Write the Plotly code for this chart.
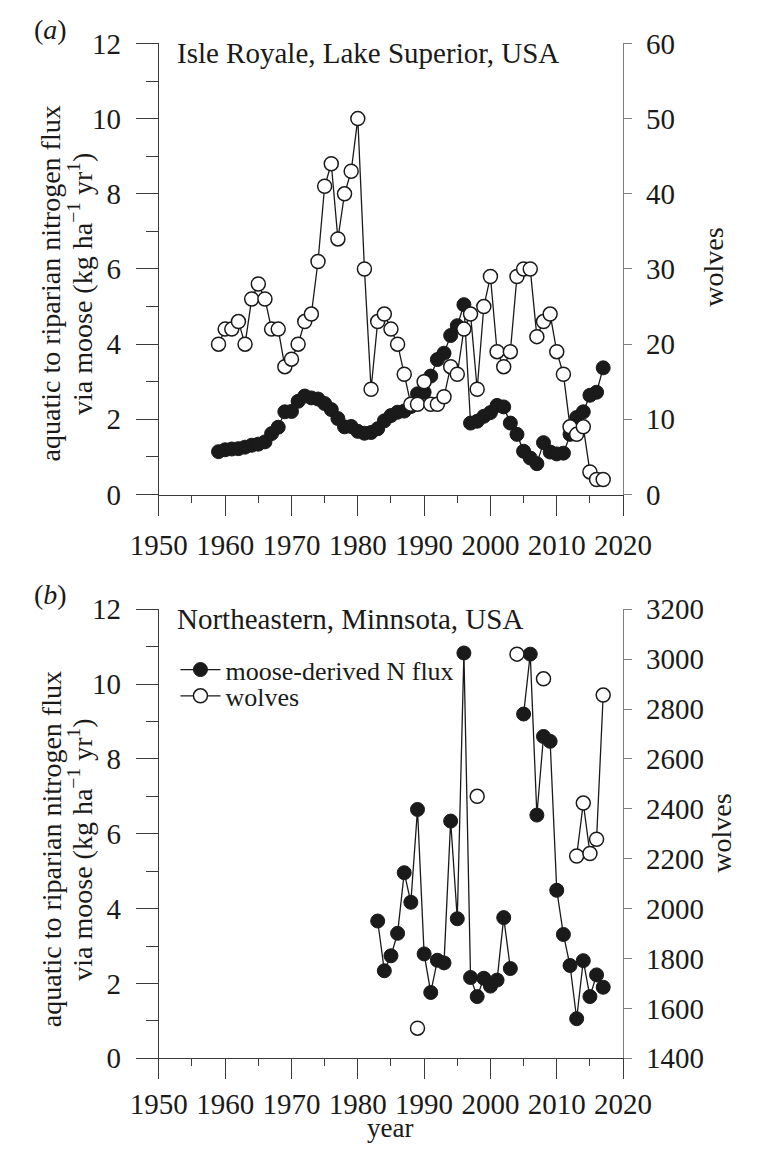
import plotly.graph_objects as go

# ---------------- data ----------------
# Panel (a): Isle Royale, Lake Superior
ir_years = list(range(1959, 2018))
ir_flux = [1.14, 1.19, 1.21, 1.22, 1.26, 1.31, 1.34, 1.40, 1.62, 1.79,
           2.20, 2.21, 2.48, 2.62, 2.57, 2.54, 2.42, 2.26, 2.02, 1.80,
           1.81, 1.68, 1.63, 1.65, 1.75, 1.96, 2.10, 2.19, 2.22, 2.34,
           2.68, 2.72, 3.15, 3.59, 3.76, 4.23, 4.49, 5.05, 1.90, 1.95,
           2.08, 2.18, 2.37, 2.33, 1.90, 1.60, 1.15, 0.97, 0.82, 1.38,
           1.13, 1.08, 1.10, 1.60, 2.05, 2.20, 2.64, 2.72, 3.37]
ir_wolves = [20, 22, 22, 23, 20, 26, 28, 26, 22, 22,
             17, 18, 20, 23, 24, 31, 41, 44, 34, 40,
             43, 50, 30, 14, 23, 24, 22, 20, 16, 12,
             12, 15, 12, 12, 13, 17, 16, 22, 24, 14,
             25, 29, 19, 17, 19, 29, 30, 30, 21, 23,
             24, 19, 16, 9, 8, 9, 3, 2, 2]

# Panel (b): Northeastern Minnesota
mn_years = list(range(1983, 2018))
mn_flux = [3.67, 2.34, 2.74, 3.34, 4.96, 4.17, 6.65, 2.79, 1.76, 2.62,
           2.55, 6.34, 3.73, 10.83, 2.16, 1.65, 2.14, 1.93, 2.09, 3.76,
           2.40, None, 9.20, 10.80, 6.50, 8.60, 8.47, 4.49, 3.31, 2.48,
           1.06, 2.61, 1.65, 2.23, 1.90]
mn_wolves = [None, None, None, None, None, None, 1521, None, None, None,
             None, None, None, None, None, 2450, None, None, None, None,
             None, 3020, None, None, None, 2921, None, None, None, None,
             2211, 2423, 2221, 2278, 2856]

x_ticks = [1950, 1960, 1970, 1980, 1990, 2000, 2010, 2020]

# ---------------- layout helpers ----------------
# The page body has an 8px margin, so the figure is 753x1148 and page pixels
# are converted to figure fractions below.
OFF = 8
W, H = 761 - OFF, 1156 - OFF
FONT = "Liberation Serif, Times New Roman, serif"
INK = "#1a1a1a"
AX = "#3a3a3a"
AX2 = "#808080"

def px_x(p):
    return (p - OFF) / W

def px_y(p):
    return 1 - (p - OFF) / H

x_dom = [px_x(140), px_x(643)]
ya_dom = [px_y(492), px_y(28)]
yb_dom = [px_y(1072), px_y(610)]

line_style = dict(color=INK, width=1.3)
filled = dict(symbol="circle", size=14, color=INK, line=dict(color=INK, width=1))
hollow = dict(symbol="circle", size=14, color="white", line=dict(color=INK, width=1.5))

fig = go.Figure()
fig.add_trace(go.Scatter(x=ir_years, y=ir_flux, mode="lines+markers", line=line_style,
                         marker=filled, xaxis="x", yaxis="y", showlegend=False))
fig.add_trace(go.Scatter(x=ir_years, y=ir_wolves, mode="lines+markers", line=line_style,
                         marker=hollow, xaxis="x", yaxis="y2", showlegend=False))
fig.add_trace(go.Scatter(x=mn_years, y=mn_flux, mode="lines+markers", line=line_style,
                         marker=filled, xaxis="x2", yaxis="y3", connectgaps=False,
                         name="moose-derived N flux", legend="legend"))
fig.add_trace(go.Scatter(x=mn_years, y=mn_wolves, mode="lines+markers", line=line_style,
                         marker=hollow, xaxis="x2", yaxis="y4", connectgaps=False,
                         name="wolves", legend="legend2"))

tickfont = dict(family=FONT, size=29, color=INK)

def xaxis(anchor, standoff):
    return dict(domain=x_dom, anchor=anchor, range=[1950, 2020], tickvals=x_ticks,
                ticks="outside", ticklen=20, tickwidth=1.3, tickcolor=AX,
                minor=dict(dtick=5, tick0=1950, ticks="outside", ticklen=7,
                           tickwidth=1.3, tickcolor=AX),
                showline=True, linecolor=AX, linewidth=1.3, showgrid=False, zeroline=False,
                tickfont=tickfont, ticklabelstandoff=standoff, fixedrange=True)

def yleft(dom, anchor):
    return dict(domain=dom, anchor=anchor, range=[0, 12], dtick=2, tick0=0,
                ticks="outside", ticklen=22, tickwidth=1.3, tickcolor=AX,
                minor=dict(dtick=1, tick0=0, ticks="outside", ticklen=12,
                           tickwidth=1.3, tickcolor=AX),
                showline=True, linecolor=AX, linewidth=1.3, showgrid=False, zeroline=False,
                tickfont=tickfont, ticklabelstandoff=9, fixedrange=True)

def yright(over, anchor, rng, dt):
    return dict(overlaying=over, anchor=anchor, side="right", range=rng, dtick=dt,
                tick0=rng[0], ticks="outside", ticklen=8, tickwidth=1.3, tickcolor=AX2,
                showline=True, linecolor=AX2, linewidth=1.3, showgrid=False, zeroline=False,
                tickfont=tickfont, ticklabelstandoff=8, fixedrange=True)

legend_common = dict(xanchor="left", yanchor="top", bgcolor="rgba(0,0,0,0)",
                     font=dict(family=FONT, size=26, color=INK), itemwidth=40,
                     borderwidth=0)

fig.update_layout(
    width=W, height=H, autosize=False,
    margin=dict(l=0, r=0, t=0, b=0),
    paper_bgcolor="white", plot_bgcolor="white",
    font=dict(family=FONT, color=INK),
    xaxis=xaxis("y", 5),
    yaxis=yleft(ya_dom, "x"),
    yaxis2=yright("y", "x", [0, 60], 10),
    xaxis2=xaxis("y3", 0),
    yaxis3=yleft(yb_dom, "x2"),
    yaxis4=yright("y3", "x2", [1400, 3200], 200),
    legend=dict(x=px_x(158), y=px_y(648), **legend_common),
    legend2=dict(x=px_x(158), y=px_y(675), **legend_common),
)

ann = []

def text(t, x, y, size, angle=0, xa="center", ya="middle"):
    ann.append(dict(text=t, x=px_x(x), y=px_y(y), xref="paper", yref="paper",
                    showarrow=False, textangle=angle, xanchor=xa, yanchor=ya,
                    font=dict(family=FONT, size=size, color=INK)))

ytitle1 = "aquatic to riparian nitrogen flux"
ytitle2 = "via moose (kg ha<sup>−1</sup> yr<sup>1</sup>)"
for cy in (275, 857):
    text(ytitle1, 23, cy, 28, angle=-90)
    text(ytitle2, 55, cy, 28, angle=-90)
text("wolves", 740, 258, 28, angle=-90)
text("wolves", 750, 840, 28, angle=-90)
text("Isle Royale, Lake Superior, USA", 157, 38, 29, xa="left")
text("Northeastern, Minnsota, USA", 157, 620, 29, xa="left")
text("(<i>a</i>)", 3, 14, 28, xa="left")
text("(<i>b</i>)", 3, 595, 28, xa="left")
text("year", 391, 1161, 27, ya="bottom")
fig.update_layout(annotations=ann)

fig.write_html("out.html")
